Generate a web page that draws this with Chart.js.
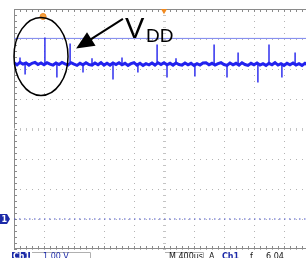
<!DOCTYPE html>
<html>
<head>
<meta charset="utf-8">
<script src="https://cdn.jsdelivr.net/npm/chart.js@4"></script>
<style>
  html, body { margin: 0; padding: 0; background: #fff; width: 306px; height: 258px; overflow: hidden; }
  #wrap { width: 330px; height: 258px; }
</style>
</head>
<body>
<div id="wrap"><canvas id="scope" width="330" height="258"></canvas></div>
<script>
// time in divisions (400 us/div), voltage in volts (1.00 V/div)
const timeStart = 0;
const timeStep = 0.1;
const traceV = [
  5.21, 5.14, 5.22, 5.16, 5.20, 5.13, 5.19, 5.22, 5.15, 5.20,
  5.14, 5.21, 5.16, 5.13, 5.20, 5.15, 5.22, 5.17, 5.13, 5.21,
  5.16, 5.12, 5.19, 5.14, 5.21, 5.15, 5.13, 5.20, 5.14, 5.21,
  5.13, 5.19, 5.13, 5.20, 5.15, 5.21, 5.14, 5.19, 5.12, 5.18,
  5.21, 5.13, 5.19, 5.12, 5.18, 5.14, 5.20, 5.13, 5.21, 5.15,
  5.21, 5.14, 5.19, 5.13, 5.20, 5.15, 5.13, 5.20, 5.14, 5.19,
  5.12, 5.18, 5.13, 5.20, 5.21, 5.14, 5.19, 5.13, 5.18, 5.21,
  5.15, 5.12, 5.20, 5.14, 5.19, 5.13, 5.21, 5.15, 5.12, 5.19,
  5.14, 5.20, 5.13, 5.18, 5.12, 5.19, 5.14, 5.21, 5.13, 5.18,
  5.12, 5.19, 5.14, 5.20, 5.13, 5.18, 5.12, 5.19, 5.14, 5.20, 5.15
];

// glitches on the supply: time (div) and peak voltage
const spikeT = [0.2, 0.37, 1.03, 1.43, 1.87, 2.3, 2.6, 3.3, 3.6, 4.13, 4.77, 5.1, 5.4, 6.03, 6.67, 7.1, 7.47, 8.13, 8.5, 8.93, 9.37];
const spikeV = [5.38, 4.82, 6.05, 4.72, 5.85, 4.88, 5.36, 4.65, 5.38, 4.88, 5.82, 4.72, 5.36, 4.75, 5.82, 4.72, 5.55, 4.55, 5.82, 4.72, 5.55];

const cursorV = 6.02;   // VDD cursor
const groundV = 0;      // channel 1 ground
const triggerT = 5;
const preMarkT = 0.97;
const preMarkV = 6.75;

const xTicks = [0, 10];
const yTicks = [-1, 7];

const trace = traceV.map((v, i) => ({ x: timeStart + i * timeStep, y: v }));

// each glitch is a thin vertical stroke from the baseline to its peak
const spikes = [];
spikeT.forEach((t, i) => {
  const base = traceV[Math.min(traceV.length - 1, Math.round(t / timeStep))];
  spikes.push({ x: t, y: base }, { x: t, y: spikeV[i] }, { x: t, y: null });
});

const graticule = {
  id: 'graticule',
  beforeDatasetsDraw(chart) {
    const { ctx, chartArea: a, scales: { x, y } } = chart;
    ctx.save();
    ctx.strokeStyle = '#8a8a8a';
    ctx.lineWidth = 1;
    ctx.beginPath();
    ctx.moveTo(a.right, a.top + 0.5);
    ctx.lineTo(a.left + 0.5, a.top + 0.5);
    ctx.lineTo(a.left + 0.5, a.bottom - 0.5);
    ctx.lineTo(a.right, a.bottom - 0.5);
    for (let i = 0; i <= 50; i++) {
      const px = Math.round(x.getPixelForValue(i / 5)) + 0.5;
      ctx.moveTo(px, a.top); ctx.lineTo(px, a.top + 3);
      ctx.moveTo(px, a.bottom); ctx.lineTo(px, a.bottom - 3);
    }
    for (let i = 0; i <= 40; i++) {
      const py = Math.round(y.getPixelForValue(-1 + i / 5)) + 0.5;
      ctx.moveTo(a.left, py); ctx.lineTo(a.left + 3, py);
    }
    ctx.stroke();

    // centre lines carry lighter minor ticks
    ctx.strokeStyle = '#c4c4c4';
    ctx.beginPath();
    const cy = Math.round(y.getPixelForValue(3)) + 0.5;
    const cx = Math.round(x.getPixelForValue(5)) + 0.5;
    for (let i = 0; i <= 50; i++) {
      const px = Math.round(x.getPixelForValue(i / 5)) + 0.5;
      ctx.moveTo(px, cy - 1.5); ctx.lineTo(px, cy + 1.5);
    }
    for (let i = 0; i <= 40; i++) {
      const py = Math.round(y.getPixelForValue(-1 + i / 5)) + 0.5;
      ctx.moveTo(cx - 1.5, py); ctx.lineTo(cx + 1.5, py);
    }
    ctx.stroke();
    ctx.restore();
  }
};

const notes = {
  id: 'notes',
  afterDatasetsDraw(chart) {
    const { ctx, chartArea: a, scales: { x, y } } = chart;
    ctx.save();

    // ellipse around the first glitch
    ctx.strokeStyle = '#000';
    ctx.lineWidth = 1.5;
    ctx.beginPath();
    ctx.ellipse(x.getPixelForValue(0.9), y.getPixelForValue(5.42), 27, 39, 0, 0, Math.PI * 2);
    ctx.stroke();

    // arrow
    const x1 = x.getPixelForValue(3.63), y1 = y.getPixelForValue(6.67);
    const x2 = x.getPixelForValue(2.07), y2 = y.getPixelForValue(5.68);
    const ang = Math.atan2(y2 - y1, x2 - x1);
    ctx.lineWidth = 2;
    ctx.beginPath();
    ctx.moveTo(x1, y1);
    ctx.lineTo(x2 - 14 * Math.cos(ang), y2 - 14 * Math.sin(ang));
    ctx.stroke();
    ctx.fillStyle = '#000';
    ctx.beginPath();
    ctx.moveTo(x2, y2);
    ctx.lineTo(x2 - 18 * Math.cos(ang) + 8 * Math.sin(ang), y2 - 18 * Math.sin(ang) - 8 * Math.cos(ang));
    ctx.lineTo(x2 - 18 * Math.cos(ang) - 8 * Math.sin(ang), y2 - 18 * Math.sin(ang) + 8 * Math.cos(ang));
    ctx.closePath();
    ctx.fill();

    // V_DD label
    ctx.textBaseline = 'alphabetic';
    ctx.font = '29px "Liberation Sans", Arial, sans-serif';
    const vx = x.getPixelForValue(3.7), vy = y.getPixelForValue(6.05);
    ctx.fillText('V', vx, vy);
    ctx.font = '19px "Liberation Sans", Arial, sans-serif';
    ctx.fillText('DD', vx + 21, vy + 4);

    // ground marker for channel 1
    const gy = Math.round(y.getPixelForValue(groundV));
    ctx.fillStyle = '#1c2aa8';
    ctx.fillRect(0, gy - 5, 7, 10);
    ctx.beginPath();
    ctx.moveTo(7, gy - 5); ctx.lineTo(10, gy); ctx.lineTo(7, gy + 5);
    ctx.closePath();
    ctx.fill();
    ctx.fillStyle = '#fff';
    ctx.font = 'bold 8px "DejaVu Sans", sans-serif';
    ctx.textBaseline = 'middle';
    ctx.fillText('1', 1.5, gy + 0.5);

    // status line
    const sy = a.bottom + 3;
    ctx.strokeStyle = '#b0b0b0';
    ctx.lineWidth = 1;
    ctx.beginPath();
    ctx.moveTo(32, sy + 0.5); ctx.lineTo(90.5, sy + 0.5); ctx.lineTo(90.5, 258);
    ctx.moveTo(165, sy + 0.5); ctx.lineTo(203.5, sy + 0.5); ctx.lineTo(203.5, 258);
    ctx.stroke();
    ctx.fillStyle = '#1c2aa8';
    ctx.fillRect(12, sy, 18, 8);
    ctx.textBaseline = 'top';
    ctx.font = 'bold 8px "DejaVu Sans", sans-serif';
    ctx.fillStyle = '#fff';
    ctx.fillText('Ch1', 13, sy + 1);
    ctx.font = '8px "DejaVu Sans", sans-serif';
    ctx.fillStyle = '#1c2aa8';
    ctx.fillText('1.00 V', 43, sy + 1);
    ctx.fillStyle = '#111';
    ctx.fillText('M 400µs', 169, sy + 1);
    ctx.fillText('A', 209, sy + 1);
    ctx.fillStyle = '#1c2aa8';
    ctx.font = 'bold 8px "DejaVu Sans", sans-serif';
    ctx.fillText('Ch1', 222, sy + 1);
    ctx.font = '8px "DejaVu Sans", sans-serif';
    ctx.fillStyle = '#111';
    ctx.fillText('ƒ', 250, sy + 1);
    ctx.fillText('6.04', 266, sy + 1);
    ctx.restore();
  }
};

new Chart(document.getElementById('scope'), {
  type: 'scatter',
  data: {
    datasets: [
      {
        data: trace,
        showLine: true,
        borderColor: '#2222ee',
        borderWidth: 3,
        pointRadius: 0,
        tension: 0
      },
      {
        data: spikes,
        showLine: true,
        spanGaps: false,
        borderColor: '#3030ee',
        borderWidth: 1.5,
        pointRadius: 0
      },
      {
        data: [{ x: xTicks[0], y: cursorV }, { x: xTicks[1], y: cursorV }],
        showLine: true,
        borderColor: '#7a84ee',
        borderWidth: 1,
        pointRadius: 0
      },
      {
        data: [{ x: xTicks[0], y: groundV }, { x: xTicks[1], y: groundV }],
        showLine: true,
        borderColor: '#4650c8',
        borderWidth: 1.2,
        borderDash: [1.5, 3.5],
        pointRadius: 0
      },
      {
        data: [{ x: preMarkT, y: preMarkV }],
        pointStyle: 'circle',
        pointRadius: 3,
        backgroundColor: '#f5a040',
        borderColor: '#f08a20',
        borderWidth: 1
      },
      {
        data: [{ x: triggerT, y: yTicks[1] - 0.06 }],
        pointStyle: 'triangle',
        rotation: 180,
        pointRadius: 3.5,
        backgroundColor: '#f08a20',
        borderColor: '#f08a20',
        borderWidth: 0
      }
    ]
  },
  options: {
    responsive: false,
    animation: false,
    devicePixelRatio: 1,
    layout: { padding: { left: 14, top: 9, right: 16, bottom: 9 } },
    plugins: { legend: { display: false }, tooltip: { enabled: false } },
    scales: {
      x: {
        type: 'linear',
        min: xTicks[0],
        max: xTicks[1],
        ticks: { display: false, stepSize: 1 },
        grid: { color: '#b4b4b4', drawTicks: false, lineWidth: 1 },
        border: { display: false, dash: [1, 5] }
      },
      y: {
        type: 'linear',
        min: yTicks[0],
        max: yTicks[1],
        ticks: { display: false, stepSize: 1 },
        grid: { color: '#b4b4b4', drawTicks: false, lineWidth: 1 },
        border: { display: false, dash: [1, 5] }
      }
    }
  },
  plugins: [graticule, notes]
});
</script>
</body>
</html>
